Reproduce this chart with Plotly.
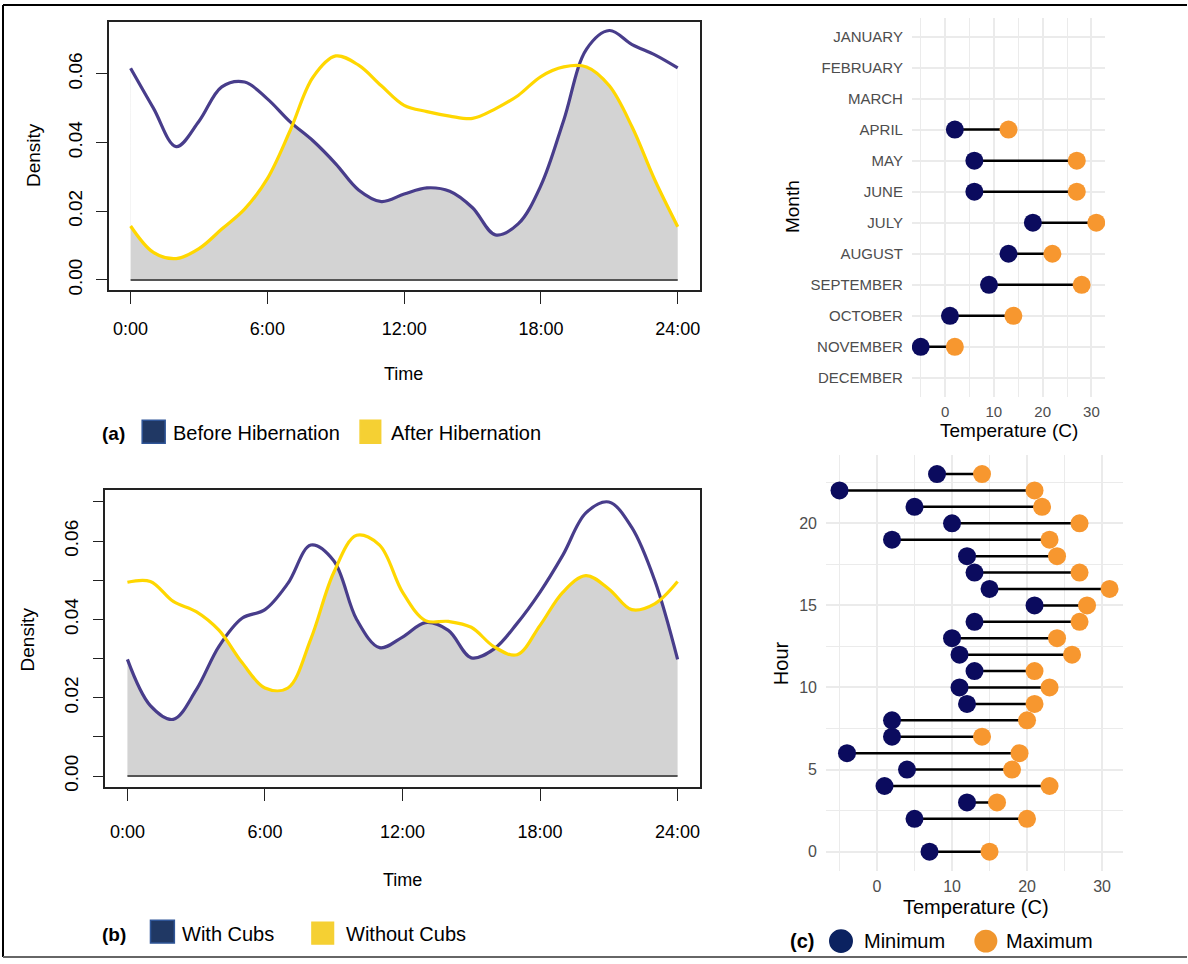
import plotly.graph_objects as go

# ---------------- data ----------------
hours = list(range(25))
hour_labels = ["0:00", "6:00", "12:00", "18:00", "24:00"]
hour_ticks = [0, 6, 12, 18, 24]

before_hib = [0.0616, 0.0500, 0.0388, 0.0462, 0.0562, 0.0576, 0.0527, 0.0460, 0.0405, 0.0338,
              0.0262, 0.0228, 0.0250, 0.0268, 0.0258, 0.0210, 0.0131, 0.0163, 0.0275, 0.0465,
              0.0672, 0.0726, 0.0685, 0.0655, 0.0617]
after_hib = [0.0157, 0.0080, 0.0062, 0.0091, 0.0148, 0.0206, 0.0295, 0.0435, 0.0590, 0.0652,
             0.0625, 0.0565, 0.0508, 0.0490, 0.0477, 0.0470, 0.0498, 0.0537, 0.0592, 0.0620,
             0.0620, 0.0565, 0.0445, 0.0290, 0.0155]
with_cubs = [0.0298, 0.0180, 0.0145, 0.0220, 0.0332, 0.0403, 0.0425, 0.0492, 0.0590, 0.0550,
             0.0400, 0.0328, 0.0355, 0.0392, 0.0372, 0.0302, 0.0325, 0.0390, 0.0470, 0.0565,
             0.0672, 0.0700, 0.0635, 0.0500, 0.0298]
without_cubs = [0.0495, 0.0497, 0.0446, 0.0420, 0.0372, 0.0290, 0.0225, 0.0225, 0.0350, 0.0520,
                0.0615, 0.0590, 0.0470, 0.0397, 0.0395, 0.0380, 0.0330, 0.0310, 0.0385, 0.0470,
                0.0512, 0.0478, 0.0425, 0.0440, 0.0497]

months = ["JANUARY", "FEBRUARY", "MARCH", "APRIL", "MAY", "JUNE", "JULY", "AUGUST",
          "SEPTEMBER", "OCTOBER", "NOVEMBER", "DECEMBER"]
month_min = [None, None, None, 2, 6, 6, 18, 13, 9, 1, -5, None]
month_max = [None, None, None, 13, 27, 27, 31, 22, 28, 14, 2, None]

hour_c = list(range(24))
hour_min = [7, None, 5, 12, 1, 4, -4, 2, 2, 12, 11, 13, 11, 10, 13, 21, 15, 13, 12, 2, 10, 5, -5, 8]
hour_max = [15, None, 20, 16, 23, 18, 19, 14, 20, 21, 23, 21, 26, 24, 27, 28, 31, 27, 24, 23, 27, 22, 21, 14]

# ---------------- style ----------------
W, H = 1188, 964
FONT = "Liberation Sans, Arial, sans-serif"
PURPLE = "#483D8B"
GOLD = "#FFD700"
FILL = "#D3D3D3"
NAVY = "#0B0B5E"
ORANGE = "#F7972F"
GRID = "#EBEBEB"


def fx(p):
    return p / W


def fy(p):
    return 1 - p / H


fig = go.Figure()


def density_panel(a_vals, b_vals, xa, ya):
    # overlap area: grey under curve A, then white between A and B -> grey = min(A,B)
    fig.add_trace(go.Scatter(x=hours, y=a_vals, mode="lines", line=dict(width=0, shape="spline"),
                             fill="tozeroy", fillcolor=FILL, xaxis=xa, yaxis=ya, hoverinfo="skip"))
    fig.add_trace(go.Scatter(x=hours, y=b_vals, mode="lines", line=dict(width=0, shape="spline"),
                             fill="tonexty", fillcolor="white", xaxis=xa, yaxis=ya, hoverinfo="skip"))
    fig.add_trace(go.Scatter(x=[hours[0], hours[-1]], y=[0, 0], mode="lines",
                             line=dict(color="#555555", width=2), xaxis=xa, yaxis=ya))
    fig.add_trace(go.Scatter(x=hours, y=a_vals, mode="lines",
                             line=dict(color=PURPLE, width=3.2, shape="spline"), xaxis=xa, yaxis=ya))
    fig.add_trace(go.Scatter(x=hours, y=b_vals, mode="lines",
                             line=dict(color=GOLD, width=3.2, shape="spline"), xaxis=xa, yaxis=ya))


density_panel(before_hib, after_hib, "x", "y")
density_panel(with_cubs, without_cubs, "x2", "y2")


def lollipop(cats, mins, maxs, xa, ya):
    lx, ly = [], []
    for c, lo, hi in zip(cats, mins, maxs):
        if lo is None:
            continue
        lx += [lo, hi, None]
        ly += [c, c, None]
    fig.add_trace(go.Scatter(x=lx, y=ly, mode="lines", line=dict(color="black", width=2.5),
                             xaxis=xa, yaxis=ya))
    fig.add_trace(go.Scatter(x=mins, y=cats, mode="markers",
                             marker=dict(color=NAVY, size=18, line=dict(width=0)), xaxis=xa, yaxis=ya))
    fig.add_trace(go.Scatter(x=maxs, y=cats, mode="markers",
                             marker=dict(color=ORANGE, size=18, line=dict(width=0)), xaxis=xa, yaxis=ya))


lollipop(months, month_min, month_max, "x3", "y3")
lollipop(hour_c, hour_min, hour_max, "x4", "y4")

frame = dict(showline=True, mirror=True, linecolor="#222222", linewidth=1.6, showgrid=False,
             zeroline=False, ticks="outside", tickcolor="#222222", tickwidth=1.3)

fig.update_layout(
    width=W, height=H, margin=dict(l=0, r=0, t=0, b=0), showlegend=False,
    paper_bgcolor="white", plot_bgcolor="white",
    font=dict(family=FONT, color="black"),
    xaxis=dict(domain=[fx(108.8), fx(700.2)], anchor="y", range=[-0.96, 24.96],
               tickvals=hour_ticks, ticktext=hour_labels, ticklen=12, ticklabelstandoff=10,
               tickfont=dict(size=18), **frame),
    yaxis=dict(domain=[fy(291.7), fy(21.7)], anchor="x", range=[-0.0029, 0.0752],
               tickvals=[0, 0.02, 0.04, 0.06], ticktext=["0.00", "0.02", "0.04", "0.06"],
               tickangle=-90, ticklen=11, ticklabelstandoff=6, tickfont=dict(size=19), **frame),
    xaxis2=dict(domain=[fx(105.5), fx(700.2)], anchor="y2", range=[-0.96, 24.96],
                tickvals=hour_ticks, ticktext=hour_labels, ticklen=12, ticklabelstandoff=16,
                tickfont=dict(size=18), **frame),
    yaxis2=dict(domain=[fy(792), fy(493.3)], anchor="x2", range=[-0.0028, 0.073],
                tickvals=[0, 0.01, 0.02, 0.03, 0.04, 0.05, 0.06, 0.07],
                ticktext=["0.00", "", "0.02", "", "0.04", "", "0.06", ""],
                tickangle=-90, ticklen=11, ticklabelstandoff=7, tickfont=dict(size=19), **frame),
    xaxis3=dict(domain=[fx(912.7), fx(1106)], anchor="y3", range=[-6.8, 32.8],
                tickvals=[0, 10, 20, 30], showgrid=True, gridcolor=GRID, gridwidth=1.6,
                minor=dict(tickvals=[-5, 5, 15, 25], showgrid=True, gridcolor=GRID, gridwidth=1),
                zeroline=False, showline=False, ticks="", ticklabelstandoff=4,
                tickfont=dict(size=15, color="#4D4D4D")),
    yaxis3=dict(domain=[fy(399), fy(18)], anchor="x3", type="category",
                categoryorder="array", categoryarray=months, range=[11.6, -0.6],
                showgrid=True, gridcolor=GRID, gridwidth=1.6, zeroline=False, showline=False,
                ticks="", ticklabelstandoff=8, tickfont=dict(size=15, color="#4D4D4D")),
    xaxis4=dict(domain=[fx(826.7), fx(1124)], anchor="y4", range=[-6.8, 32.8],
                tickvals=[0, 10, 20, 30], showgrid=True, gridcolor=GRID, gridwidth=1.6,
                minor=dict(tickvals=[-5, 5, 15, 25], showgrid=True, gridcolor=GRID, gridwidth=1),
                zeroline=False, showline=False, ticks="", ticklabelstandoff=4,
                tickfont=dict(size=16, color="#4D4D4D")),
    yaxis4=dict(domain=[fy(876), fy(458)], anchor="x4", range=[-1.15, 24.15],
                tickvals=[0, 5, 10, 15, 20], showgrid=True, gridcolor=GRID, gridwidth=1.6,
                minor=dict(tickvals=[2.5, 7.5, 12.5, 17.5, 22.5], showgrid=True, gridcolor=GRID, gridwidth=1),
                zeroline=False, showline=False, ticks="", ticklabelstandoff=8,
                tickfont=dict(size=16, color="#4D4D4D")),
)


def txt(text, x, y, size, xanchor="center", angle=0, bold=False, color="black"):
    fig.add_annotation(text=("<b>%s</b>" % text) if bold else text, x=fx(x), y=fy(y),
                       xref="paper", yref="paper", xanchor=xanchor, yanchor="middle",
                       showarrow=False, textangle=angle, font=dict(size=size, color=color, family=FONT))


def rect(x0, y0, x1, y1, fill, line):
    fig.add_shape(type="rect", xref="paper", yref="paper", x0=fx(x0), x1=fx(x1), y0=fy(y1), y1=fy(y0),
                  fillcolor=fill, line=dict(color=line, width=1.5))


def circ(cx, cy, r, fill):
    fig.add_shape(type="circle", xref="paper", yref="paper", x0=fx(cx - r), x1=fx(cx + r),
                  y0=fy(cy + r), y1=fy(cy - r), fillcolor=fill, line=dict(width=0))


# panel (a)
txt("Density", 33, 156, 19, angle=-90)
txt("Time", 404, 376, 18)
txt("(a)", 113.6, 436, 19, bold=True)
rect(142.3, 423, 165.3, 446, "#203864", "#2F5597")
txt("Before Hibernation", 170.8, 436, 20, xanchor="left")
rect(360.4, 423, 381, 446, "#F5D033", "#F5D033")
txt("After Hibernation", 389.4, 436, 20, xanchor="left")

# panel (b)
txt("Density", 28.5, 643, 19, angle=-90)
txt("Time", 402.7, 886, 18)
txt("(b)", 114.3, 940, 19, bold=True)
rect(150.6, 926, 174.5, 949, "#203864", "#2F5597")
txt("With Cubs", 180, 940, 20, xanchor="left")
rect(312.2, 928, 333.8, 950, "#F5D033", "#F5D033")
txt("Without Cubs", 344.4, 940, 20, xanchor="left")

# panel (c)
txt("Month", 793, 208, 19, angle=-90)
txt("Temperature (C)", 1010, 433, 19)
txt("Hour", 782, 667, 20, angle=-90)
txt("Temperature (C)", 976.7, 913, 20)
txt("(c)", 802.5, 947, 20, bold=True)
circ(841.7, 947, 12, "#0B2260")
txt("Minimum", 863, 947, 20, xanchor="left")
circ(986.7, 947, 11.5, "#F0962E")
txt("Maximum", 1005, 947, 20, xanchor="left")

# outer frame
fig.add_shape(type="line", xref="paper", yref="paper", x0=fx(3), x1=1, y0=fy(5), y1=fy(5),
              line=dict(color="black", width=2))
fig.add_shape(type="line", xref="paper", yref="paper", x0=fx(3), x1=fx(3), y0=fy(5), y1=fy(963),
              line=dict(color="black", width=2))
fig.add_shape(type="line", xref="paper", yref="paper", x0=fx(3), x1=1, y0=fy(963), y1=fy(963),
              line=dict(color="#666666", width=2))

fig.write_html("out.html", config={"displayModeBar": False},
               post_script="document.body.style.margin='0';document.body.style.overflow='hidden';")
